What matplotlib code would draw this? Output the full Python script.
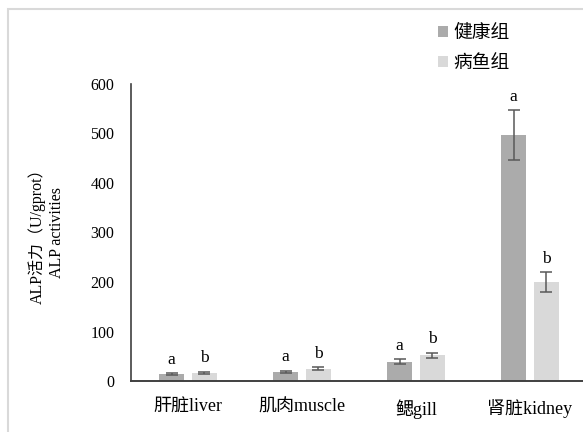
import matplotlib.pyplot as plt
import numpy as np
from matplotlib.patches import Rectangle

plt.rcParams['font.family'] = ['Liberation Serif', 'Noto Sans CJK SC']

# tissues and ALP activity (U/gprot), mean and error
tissues = ['肝脏liver', '肌肉muscle', '鳃gill', '肾脏kidney']
healthy = [14, 19, 39, 497]
healthy_err = [2, 2, 4.5, 50]
diseased = [17, 25, 52, 200]
diseased_err = [2, 3, 5, 20]
healthy_sig = ['a', 'a', 'a', 'a']
diseased_sig = ['b', 'b', 'b', 'b']
yticks = [0, 100, 200, 300, 400, 500, 600]

fig = plt.figure(figsize=(5.83, 4.32), dpi=100)

# light border around the whole chart area
fig.patches.append(Rectangle((8 / 583, -0.1), 1.2, 1 - 9 / 432 + 0.1,
                             transform=fig.transFigure, fill=False,
                             edgecolor='#d9d9d9', linewidth=1.5))

ax = fig.add_axes([131 / 583, 1 - 381 / 432, 456 / 583, 297 / 432])

x = np.arange(len(tissues))
w = 0.224
off = 0.144
err_kw = dict(ecolor='#595959', elinewidth=1.1, capsize=4, capthick=1.1)
b1 = ax.bar(x - off, healthy, w, yerr=healthy_err, color='#ababab',
            error_kw=err_kw, label='健康组')
b2 = ax.bar(x + off, diseased, w, yerr=diseased_err, color='#d9d9d9',
            error_kw=err_kw, label='病鱼组')

# significance letters above the error bars
for i in range(len(tissues)):
    ax.annotate(healthy_sig[i], (x[i] - off, healthy[i] + healthy_err[i]),
                xytext=(0, 4), textcoords='offset points',
                ha='center', va='bottom', fontsize=12.5)
    ax.annotate(diseased_sig[i], (x[i] + off, diseased[i] + diseased_err[i]),
                xytext=(0, 4), textcoords='offset points',
                ha='center', va='bottom', fontsize=12.5)

ax.set_xlim(-0.5, len(tissues) - 0.5)
ax.set_ylim(0, 600)
ax.set_yticks(yticks)
ax.set_yticklabels([str(v) for v in yticks], fontsize=11.5)
ax.set_xticks(x)
ax.set_xticklabels(tissues, fontsize=13)
ax.tick_params(axis='y', length=0, pad=12)
ax.tick_params(axis='x', length=0, pad=13)

for s in ['top', 'right']:
    ax.spines[s].set_visible(False)
ax.spines['left'].set_color('#404040')
ax.spines['bottom'].set_color('#404040')
ax.spines['left'].set_linewidth(1.2)
ax.spines['bottom'].set_linewidth(1.4)

ax.set_ylabel('ALP活力（U/gprot）\nALP activities', fontsize=11.5,
              linespacing=1.25)
ax.yaxis.set_label_coords(-0.145, 0.5)

fig.legend(handles=[b1, b2], loc='upper left',
           bbox_to_anchor=(421 / 583, 1 - 8 / 432), frameon=False,
           fontsize=13.5, handlelength=0.55, handleheight=0.55,
           handletextpad=0.3, labelspacing=0.7)

fig.savefig('out.png', dpi=100)
